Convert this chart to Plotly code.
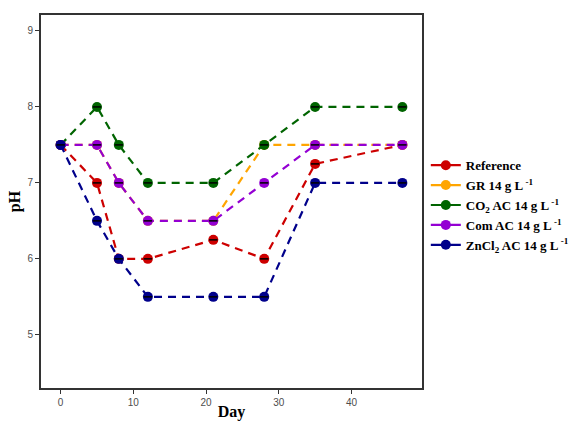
import plotly.graph_objects as go

days = [0, 5, 8, 12, 21, 28, 35, 47]
ph_reference = [7.5, 7.0, 6.0, 6.0, 6.25, 6.0, 7.25, 7.5]
ph_gr = [7.5, 7.5, 7.0, 6.5, 6.5, 7.5, 7.5, 7.5]
ph_co2 = [7.5, 8.0, 7.5, 7.0, 7.0, 7.5, 8.0, 8.0]
ph_com = [7.5, 7.5, 7.0, 6.5, 6.5, 7.0, 7.5, 7.5]
ph_zncl2 = [7.5, 6.5, 6.0, 5.5, 5.5, 5.5, 7.0, 7.0]

series_names = [
    "Reference",
    "GR 14 g L<sup> -1</sup>",
    "CO<sub>2</sub> AC 14 g L<sup> -1</sup>",
    "Com AC 14 g L<sup> -1</sup>",
    "ZnCl<sub>2</sub> AC 14 g L<sup> -1</sup>",
]
series_values = [ph_reference, ph_gr, ph_co2, ph_com, ph_zncl2]
series_colors = ["#CD0000", "#FFA500", "#006400", "#9400D3", "#00008B"]

fig = go.Figure()
for name, vals, col in zip(series_names, series_values, series_colors):
    # dashed line with points
    fig.add_trace(go.Scatter(
        x=days, y=vals, mode="lines+markers", showlegend=False,
        line=dict(color=col, width=2.2, dash="8px,6px"),
        marker=dict(color=col, size=10),
        hoverinfo="skip",
    ))
    # small black error-bar caps (zero spread) centred on each point
    fig.add_trace(go.Scatter(
        x=days, y=vals, mode="markers", showlegend=False,
        marker=dict(symbol="line-ew", size=6, color="black",
                    line=dict(color="black", width=1.5)),
        hoverinfo="skip",
    ))
    # legend key drawn with a solid line
    fig.add_trace(go.Scatter(
        x=[None], y=[None], name="<b>" + name + "</b>", mode="lines+markers",
        line=dict(color=col, width=2.2),
        marker=dict(color=col, size=10),
    ))

serif = "Liberation Serif, Times New Roman, serif"
axis_common = dict(
    showline=True, mirror=True, linecolor="#333333", linewidth=2,
    showgrid=False, zeroline=False,
    ticks="outside", ticklen=4, tickcolor="#333333", tickwidth=1,
    tickfont=dict(family="Liberation Sans, Arial, sans-serif",
                  size=10, color="#4D4D4D"),
)

fig.update_layout(
    width=572, height=421,
    margin=dict(l=41, r=150, t=15, b=33, autoexpand=False),
    plot_bgcolor="white", paper_bgcolor="white",
    showlegend=True,
    legend=dict(
        x=1.01, y=0.49, xanchor="left", yanchor="middle",
        font=dict(family=serif, size=13, color="black"),
        tracegroupgap=0, itemwidth=30,
        bgcolor="rgba(0,0,0,0)",
    ),
    xaxis=dict(
        range=[-2.7, 49.7], tickvals=[0, 10, 20, 30, 40],
        title=dict(text="<b>Day</b>", font=dict(family=serif, size=16,
                                                color="black"), standoff=3),
        **axis_common,
    ),
    yaxis=dict(
        range=[4.3, 9.21], tickvals=[5, 6, 7, 8, 9],
        title=dict(text="<b>pH</b>", font=dict(family=serif, size=16,
                                               color="black"), standoff=3),
        **axis_common,
    ),
)

fig.write_html("out.html")
